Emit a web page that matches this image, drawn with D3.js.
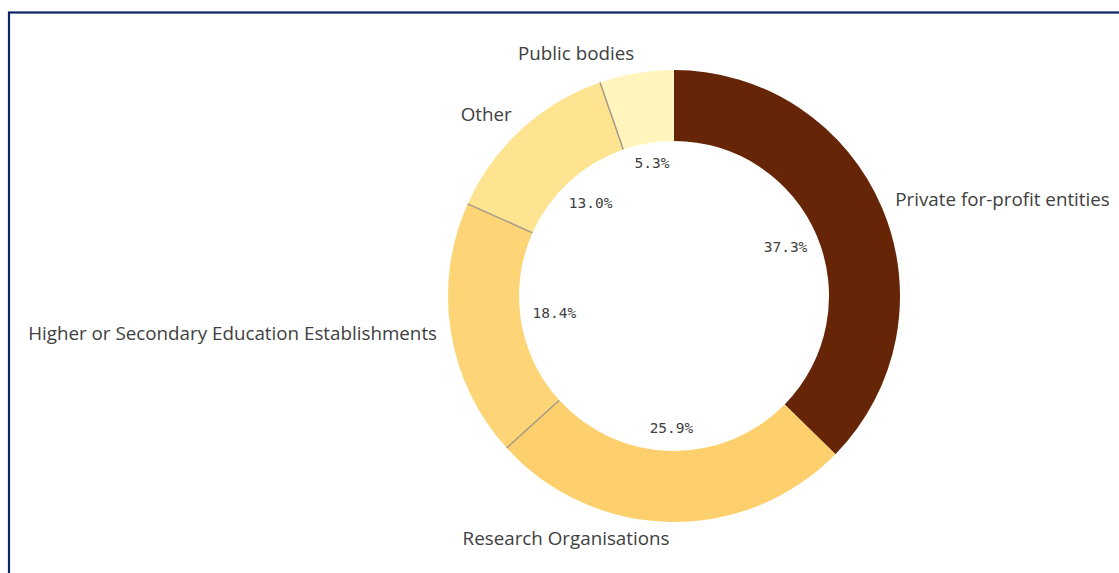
<!DOCTYPE html>
<html><head><meta charset="utf-8">
<script src="https://cdn.jsdelivr.net/npm/d3@7"></script>
<style>
html,body{margin:0;padding:0;background:#fff;overflow:hidden}
svg{display:block}
</style></head>
<body>
<svg id="chart" width="1119" height="573"></svg>
<script>
const categories = ["Private for-profit entities","Research Organisations","Higher or Secondary Education Establishments","Other","Public bodies"];
const values = [37.3, 25.9, 18.4, 13.0, 5.3];
const colors = ["#662506","#fdd06d","#fdd476","#fee391","#fff5bd"];

const W = 1119, H = 573;
const cx = 674, cy = 296, outerR = 226, innerR = 155;
const svg = d3.select("#chart");

svg.append("rect").attr("x",9).attr("y",12.5).attr("width",W+20).attr("height",H+20)
  .attr("fill","none").attr("stroke","#0b2566").attr("stroke-width",2.2);

const g = svg.append("g").attr("transform",`translate(${cx},${cy})`);
const data = categories.map((c,i)=>({cat:c,value:values[i],color:colors[i]}));
const pie = d3.pie().value(d=>d.value).sort(null);
const arcs = pie(data);
const arc = d3.arc().innerRadius(innerR).outerRadius(outerR);

g.selectAll("path.slice").data(arcs).join("path").attr("class","slice")
  .attr("d",arc).attr("fill",d=>d.data.color);

// separator lines between adjacent light slices
g.selectAll("line.sep").data(arcs.filter((d,i)=>i>=2)).join("line").attr("class","sep")
  .attr("x1",d=>Math.sin(d.startAngle)*innerR).attr("y1",d=>-Math.cos(d.startAngle)*innerR)
  .attr("x2",d=>Math.sin(d.startAngle)*outerR).attr("y2",d=>-Math.cos(d.startAngle)*outerR)
  .attr("stroke","#a39b86").attr("stroke-width",1.5);

// percentage labels inside the hole
const R0 = 144;
arcs.forEach(d=>{
  const a = (d.startAngle+d.endAngle)/2;
  const ux = Math.sin(a), uy = -Math.cos(a);
  const t = g.append("text").text(d.data.value.toFixed(1)+"%")
    .attr("font-family","'DejaVu Sans Mono', monospace").attr("font-size",14.5)
    .attr("fill","#404040").attr("text-anchor","middle").attr("dominant-baseline","central");
  const w = t.node().getComputedTextLength(), h = 15;
  const dx = Math.sign(ux)*w/2, dy = Math.sign(uy)*h/2;
  const ud = ux*dx+uy*dy, dd = dx*dx+dy*dy;
  const r = -ud + Math.sqrt(ud*ud - dd + R0*R0);
  t.attr("x",r*ux).attr("y",r*uy - 2);
});

// category labels outside
const labR = 240;
arcs.forEach(d=>{
  const a = (d.startAngle+d.endAngle)/2;
  const ux = Math.sin(a), uy = -Math.cos(a);
  g.append("text").text(d.data.cat)
    .attr("x",labR*ux).attr("y",(labR+4)*uy - 2)
    .attr("font-family","'Open Sans', sans-serif").attr("font-size",18.8)
    .attr("fill","#404040")
    .attr("text-anchor", ux>=0 ? "start" : "end")
    .attr("dominant-baseline","central");
});
</script>
</body></html>
